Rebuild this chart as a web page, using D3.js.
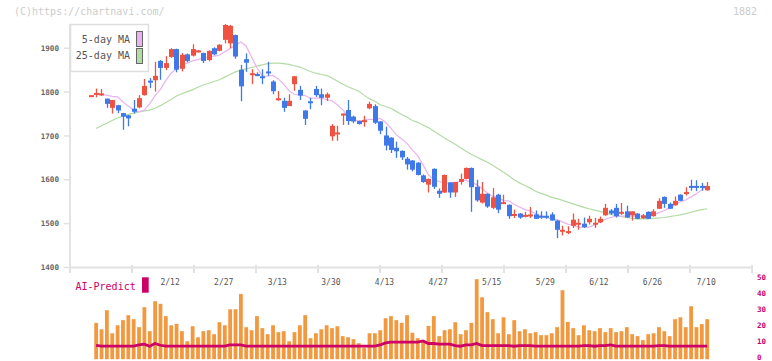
<!DOCTYPE html>
<html>
<head>
  <meta charset="utf-8">
  <style>
    body { margin: 0; background: #fff; }
    text { font-family: "DejaVu Sans Mono", monospace; }
  </style>
</head>
<body>
<script src="https://cdnjs.cloudflare.com/ajax/libs/d3/7.8.5/d3.min.js"></script>
<script>

// --- data (index 0 .. 115, one per trading day) ---
var dateLabels = ["2/12", "2/27", "3/13", "3/30", "4/13", "4/27", "5/15", "5/29", "6/12", "6/26", "7/10"];
var dateIdx = [15, 25, 35, 45, 55, 65, 75, 85, 95, 105, 115];

var open = [1793,1794,1794,1785,1764,1770,1752,1747,1762,1765, 1793,1826,1827,1871,1855,1880,1898,1853,1886,1883,
            1893,1889,1873,1900,1894,1919,1911,1930,1851,1875, 1841,1841,1836,1847,1824,1784,1780,1768,1818,1805,
            1758,1779,1807,1795,1787,1699,1706,1747,1759,1744, 1734,1734,1763,1768,1733,1701,1696,1673,1666,1648,
            1644,1639,1610,1589,1625,1575,1571,1594,1571,1595, 1602,1627,1584,1548,1568,1536,1566,1548,1543,1521,
            1523,1518,1519,1521,1518,1518,1521,1507,1484,1481, 1495,1500,1500,1503,1500,1503,1519,1530,1536,1525,
            1528,1519,1523,1512,1527,1517,1534,1561,1545,1542, 1566,1570,1586,1586,1586,1576];
var high = [1793,1808,1807,1785,1782,1771,1752,1748,1782,1793, 1830,1832,1869,1873,1882,1900,1899,1889,1888,1909,
            1896,1890,1895,1902,1909,1955,1953,1931,1862,1888, 1852,1845,1852,1869,1827,1802,1787,1795,1837,1814,
            1759,1787,1814,1808,1799,1727,1723,1751,1782,1746, 1735,1746,1778,1772,1734,1721,1697,1687,1667,1652,
            1645,1640,1612,1603,1626,1580,1612,1595,1595,1614, 1628,1628,1600,1595,1569,1581,1568,1566,1544,1532,
            1524,1527,1538,1530,1528,1528,1526,1508,1495,1494, 1523,1511,1514,1518,1513,1516,1545,1533,1545,1547,
            1541,1528,1524,1522,1528,1533,1558,1562,1548,1562, 1567,1583,1600,1599,1593,1595];
var low = [1793,1788,1791,1764,1751,1752,1714,1722,1751,1763, 1792,1809,1801,1828,1850,1878,1845,1847,1868,1881,
           1890,1866,1870,1884,1893,1911,1900,1876,1779,1846, 1818,1836,1818,1837,1795,1780,1755,1768,1803,1782,
           1725,1761,1789,1770,1780,1689,1689,1725,1725,1729, 1726,1721,1761,1727,1704,1667,1661,1650,1645,1623,
           1619,1610,1593,1571,1579,1559,1570,1559,1561,1589, 1601,1527,1550,1546,1536,1533,1524,1545,1511,1513,
           1511,1514,1513,1511,1511,1511,1507,1467,1473,1476, 1490,1486,1490,1498,1490,1501,1518,1520,1514,1520,
           1513,1507,1510,1511,1511,1516,1533,1536,1534,1541, 1552,1564,1575,1574,1575,1575];
var close = [1793,1798,1797,1773,1782,1758,1744,1740,1755,1786, 1814,1822,1837,1855,1866,1898,1851,1885,1871,1898,
             1895,1871,1894,1886,1908,1953,1951,1881,1813,1867, 1843,1840,1834,1845,1802,1786,1764,1780,1836,1792,
             1739,1777,1793,1787,1795,1723,1708,1751,1734,1733, 1727,1736,1773,1730,1712,1678,1668,1665,1651,1635,
             1623,1611,1595,1602,1584,1568,1611,1571,1595,1602, 1627,1583,1553,1568,1539,1560,1532,1549,1517,1522,
             1514,1520,1521,1511,1516,1516,1507,1486,1486,1483, 1509,1502,1492,1511,1502,1511,1536,1523,1517,1527,
             1514,1528,1511,1519,1511,1528,1552,1545,1534,1552, 1552,1572,1584,1584,1584,1586];

var ma5 = [null, 1795,1794,1793,1790,1789,1778,1768,1759,1755,1759, 1773,1792,1806,1826,1843,1854,1861,1866,1871,1874,
           1878,1880,1882,1884,1892,1899,1907,1914,1905,1880, 1856,1837,1836,1838,1830,1818,1803,1795,1793,1792,
           1786,1786,1786,1783,1780,1771,1760,1745,1737,1734, 1736,1738,1737,1740,1731,1718,1703,1693,1683,1668,
           1655,1634,1612,1600,1596,1593,1592,1594,1596,1599, 1594,1589,1580,1570,1562,1561,1552,1552,1544,1538,
           1532,1529,1523,1518,1514,1511,1509,1504,1499,1496, 1492,1492,1492,1497,1503,1510,1514,1517,1517,1517,
           1517,1517,1517,1517,1520,1525,1530,1536,1543,1550, 1554,1561,1568,1577,1585];
var ma25 = [null, 1717,1723,1729,1735,1741,1745,1749,1752,1755,1757, 1759,1763,1769,1776,1783,1791,1796,1801,1805,1811,
            1816,1820,1824,1828,1834,1840,1846,1850,1853,1856, 1859,1862,1865,1866,1866,1865,1863,1860,1857,1852,
            1847,1843,1840,1838,1832,1825,1818,1812,1807,1802, 1793,1785,1779,1771,1767,1763,1756,1749,1743,1735,
            1731,1725,1719,1711,1703,1695,1688,1681,1673,1665, 1658,1652,1646,1640,1633,1625,1617,1609,1600,1593,
            1587,1581,1574,1569,1565,1560,1557,1553,1549,1545, 1541,1537,1534,1531,1528,1524,1521,1518,1516,1514,
            1512,1511,1511,1511,1512,1513,1514,1516,1518,1520, 1523,1526,1529,1532,1534];

var volume = [null, 22.4,18.4,30.3,15.9,20.9,24.1,27.2,24.7,19.7,32.2, 17.2,35.9,34.3,26.6,20.9,21.8,17.2,10.9,20.3,13.4,
              17.2,17.8,15.3,22.8,20.9,30.9,30.9,40.5,19.7,17.8, 26.6,19.1,15.3,20.9,16.6,17.2,10.9,16.6,20.9,27.2,
              12.8,15.9,18.4,20.9,19.1,20.3,14.1,13.4,12.2,9.7, 7,15.9,15.9,17.8,25.3,26.6,24.1,22.4,27.2,16.2,
              12.8,11.6,20.5,26.6,14.1,17.8,18.4,22.8,15.3,17.8, 22.4,49.7,38.4,29.1,24.7,15.9,25.9,15.3,24.1,17.2,
              18.4,15.9,16.6,14.7,14.7,15.9,19.7,42.8,23,19.1, 14.7,20.9,17.8,17.2,19.1,16.6,19.1,16.6,17.2,19.7,
              15.3,14.1,11.6,15.3,15.9,19.7,17.2,14.1,24.7,25.9, 19.7,32.8,19.7,21.6,24.7];
var predict = [null, 8.4,7.8,7.8,7.8,7.8,7.8,7.8,7.8,8.6,9.1, 7.8,9.5,8.4,7.8,7.8,7.8,7.8,7.8,7.8,7.8,
               7.8,7.8,7.8,7.8,7.8,8.6,8.6,8.6,7.8,7.8, 7.8,7.8,7.8,7.8,7.8,7.8,7.8,7.8,7.8,7.8,
               7.8,7.8,7.8,7.8,7.8,7.8,7.8,7.8,7.8,7.8, 7.8,7.8,7.8,8.6,9.9,10.3,10.3,10.3,10.3,10.3,
               10.3,11.1,9.5,9.5,9.1,9.1,9.1,8.2,7.8,8.6, 8.6,9.5,8.2,8.2,8.2,8.2,8.2,8.2,7.8,8.2,
               8.2,8.2,7.8,7.8,7.8,7.8,7.8,7.8,7.8,7.8, 7.8,8.2,8.2,7.8,8.2,8.2,8.6,7.8,7.8,7.8,
               7.8,7.8,7.8,7.8,7.8,8.2,8.2,7.8,7.8,7.8, 7.8,7.8,7.8,7.8,7.8];

var priceTicks = [1400, 1500, 1600, 1700, 1800, 1900];
var volTicks = [0, 10, 20, 30, 40, 50];

var RED = "#f05241", BLUE = "#3f79e9", PINK = "#e9b3ee", GREEN = "#b3dba5",
    ORANGE = "#f2983f", MAGENTA = "#cc0066", AXIS = "#e2e2e2";

// --- scales ---
var x = d3.scaleLinear().domain([0, 115]).range([90.7, 707.1]);
var y = d3.scaleLinear().domain([1400, 1900]).range([267.5, 48.2]);
var yv = d3.scaleLinear().domain([0, 50]).range([358.7, 278.7]);
var gridX = d3.scaleLinear().domain([0, 11]).range([70, 752]);

var svg = d3.select("body").append("svg")
    .attr("width", 772)
    .attr("height", 361);

svg.append("text")
    .attr("x", 14).attr("y", 15)
    .style("font-size", "10px").attr("fill", "#cccccc")
    .text("(C)https://chartnavi.com/");

svg.append("text")
    .attr("x", 757).attr("y", 15)
    .attr("text-anchor", "end")
    .style("font-size", "10px").attr("fill", "#cccccc")
    .text("1882");

// axes
svg.append("line")
    .attr("x1", 70).attr("x2", 752).attr("y1", 267.5).attr("y2", 267.5)
    .attr("stroke", AXIS).attr("stroke-width", 2);
svg.append("line")
    .attr("x1", 70).attr("x2", 70).attr("y1", 24).attr("y2", 268)
    .attr("stroke", AXIS).attr("stroke-width", 2);

svg.append("g").selectAll("line")
    .data(d3.range(12))
  .enter().append("line")
    .attr("x1", function(d) { return gridX(d); })
    .attr("x2", function(d) { return gridX(d); })
    .attr("y1", 265).attr("y2", 273)
    .attr("stroke", AXIS).attr("stroke-width", 2);

var yAxis = svg.append("g");
yAxis.selectAll("line")
    .data(priceTicks)
  .enter().append("line")
    .attr("x1", 64).attr("x2", 70)
    .attr("y1", function(d) { return y(d); })
    .attr("y2", function(d) { return y(d); })
    .attr("stroke", AXIS).attr("stroke-width", 1.5);
yAxis.selectAll("text")
    .data(priceTicks)
  .enter().append("text")
    .attr("x", 59)
    .attr("y", function(d) { return y(d); })
    .attr("dy", "0.35em")
    .attr("text-anchor", "end")
    .style("font-size", "7.6px").style("font-weight", "bold")
    .attr("fill", "#666")
    .text(function(d) { return d; });

svg.append("g").selectAll("text")
    .data(dateLabels)
  .enter().append("text")
    .attr("x", function(d, i) { return x(dateIdx[i]) - 1; })
    .attr("y", 285)
    .attr("text-anchor", "middle")
    .style("font-size", "8px")
    .attr("fill", "#555")
    .text(function(d) { return d; });

// moving averages
var maLine = function(arr) {
  return d3.line()
      .defined(function(d) { return d != null; })
      .x(function(d, i) { return x(i); })
      .y(function(d) { return y(d); })(arr);
};
svg.append("path").attr("d", maLine(ma25))
    .attr("fill", "none").attr("stroke", GREEN).attr("stroke-width", 1.2);
svg.append("path").attr("d", maLine(ma5))
    .attr("fill", "none").attr("stroke", PINK).attr("stroke-width", 1.2);

// candles
var candles = svg.append("g").selectAll("g")
    .data(d3.range(open.length))
  .enter().append("g")
    .attr("fill", function(i) { return close[i] >= open[i] ? RED : BLUE; })
    .attr("stroke", function(i) { return close[i] >= open[i] ? RED : BLUE; });

candles.append("line")
    .attr("x1", function(i) { return Math.round(x(i)) + 0.5; })
    .attr("x2", function(i) { return Math.round(x(i)) + 0.5; })
    .attr("y1", function(i) { return y(high[i]); })
    .attr("y2", function(i) { return y(low[i]); })
    .attr("stroke-width", 1.3);

candles.append("rect")
    .attr("stroke", "none")
    .attr("x", function(i) { return Math.round(x(i)) - 2; })
    .attr("width", 5)
    .attr("y", function(i) { return y(Math.max(open[i], close[i])); })
    .attr("height", function(i) { return Math.max(2, Math.abs(y(open[i]) - y(close[i]))); });

// legend
var legend = svg.append("g");
legend.append("rect")
    .attr("x", 70.5).attr("y", 24.5).attr("width", 78).attr("height", 47)
    .attr("fill", "#fff").attr("stroke", "#dedede").attr("stroke-width", 1.5);
legend.selectAll("text")
    .data(["5-day MA", "25-day MA"])
  .enter().append("text")
    .attr("x", 130).attr("y", function(d, i) { return 42.5 + i * 16.5; })
    .attr("text-anchor", "end")
    .style("font-size", "10px").attr("fill", "#555")
    .text(function(d) { return d; });
legend.selectAll("rect.sw")
    .data([PINK, GREEN])
  .enter().append("rect")
    .attr("class", "sw")
    .attr("x", 136.5).attr("y", function(d, i) { return 31.5 + i * 17; })
    .attr("width", 6).attr("height", 15)
    .attr("fill", function(d) { return d; })
    .attr("stroke", "#666").attr("stroke-width", 1);

// volume + AI-Predict panel
svg.append("g").selectAll("rect")
    .data(d3.range(volume.length).filter(function(i) { return volume[i] != null; }))
  .enter().append("rect")
    .attr("x", function(i) { return x(i) - 1.8; })
    .attr("width", 3.8)
    .attr("y", function(i) { return yv(volume[i]); })
    .attr("height", function(i) { return yv(0) - yv(volume[i]) + 0.5; })
    .attr("fill", ORANGE);

svg.append("path")
    .attr("d", d3.line()
        .defined(function(d) { return d != null; })
        .x(function(d, i) { return x(i); })
        .y(function(d) { return yv(d); })(predict))
    .attr("fill", "none")
    .attr("stroke", MAGENTA)
    .attr("stroke-width", 2.8);

svg.append("text")
    .attr("x", 75.5).attr("y", 289.5)
    .style("font-size", "10px").attr("fill", MAGENTA)
    .text("AI-Predict");
svg.append("rect")
    .attr("x", 142).attr("y", 277.3).attr("width", 6.7).attr("height", 15.4)
    .attr("fill", MAGENTA);

svg.append("g").selectAll("text")
    .data(volTicks)
  .enter().append("text")
    .attr("x", 757)
    .attr("y", function(d) { return yv(d) - 1.6; })
    .attr("dy", "0.35em")
    .style("font-size", "7.5px").style("font-weight", "bold")
    .attr("fill", MAGENTA)
    .text(function(d) { return d; });

</script>
</body>
</html>
